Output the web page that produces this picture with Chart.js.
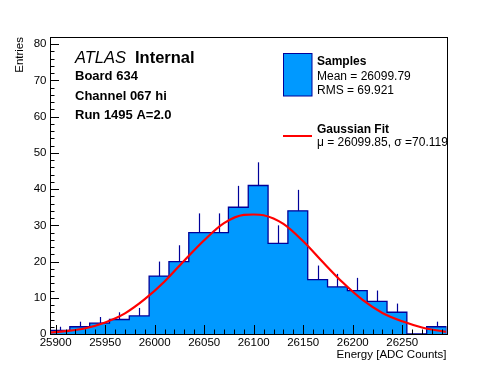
<!DOCTYPE html>
<html><head><meta charset="utf-8">
<script src="https://cdn.jsdelivr.net/npm/chart.js@4.4.0/dist/chart.umd.min.js"></script>
<style>html,body{margin:0;padding:0;background:#fff;}#wrap{width:496px;height:372px;}</style>
</head><body><div id="wrap"><canvas id="c" width="496" height="372"></canvas></div>
<script>
// ---- data ----
const binLow = 25894.3;
const binWidth = 20.02;
const counts = [1, 2, 3, 4, 5, 16, 20, 28, 28, 35, 41, 25, 34, 15, 13, 12, 9, 6, 0, 2];
const errors = [1, 1.4, 1.7, 2, 2.2, 4, 4.5, 5.3, 5.3, 5.9, 6.4, 5, 5.8, 3.9, 3.6, 3.5, 3, 2.4, 0, 1.4];
const fitX = [25894, 25910, 25930, 25950, 25970, 25990, 26010, 26030, 26050, 26070, 26090, 26100, 26110, 26130, 26150, 26170, 26190, 26210, 26230, 26250, 26270, 26294];
const fitY = [0.4, 0.8, 1.6, 3.2, 5.7, 9.6, 14.5, 20.3, 25.9, 30.6, 32.9, 33.0, 32.8, 30.4, 25.6, 19.8, 14.2, 9.4, 5.8, 3.5, 1.8, 0.6];
const xTickLabels = [25900, 25950, 26000, 26050, 26100, 26150, 26200, 26250];
const yTickLabels = [0, 10, 20, 30, 40, 50, 60, 70, 80];
const xMin = 25894.3, xMax = 26294.7;
const yMin = 0, yMax = 82;
const xMajorStep = 50, xMinorStep = 10;
const yMajorStep = 10, yMinorStep = 2;
const labelLines = ["Board 634", "Channel 067 hi", "Run 1495 A=2.0"];
const legendSamples = ["Samples", "Mean = 26099.79", "RMS = 69.921"];
const legendFit = ["Gaussian Fit", "\u03bc = 26099.85, \u03c3 =70.119"];

const FONT = "'Liberation Sans', Arial, Helvetica, sans-serif";
const FILL = '#0099ff', LINE = '#000099', RED = '#ff0000';

// histogram outline points (stepped)
const histPts = [{x: binLow, y: 0}];
counts.forEach((c, i) => histPts.push({x: binLow + i * binWidth, y: c}));
histPts.push({x: binLow + counts.length * binWidth, y: counts[counts.length - 1]});
histPts.push({x: binLow + counts.length * binWidth, y: 0});
const fitPts = fitX.map((x, i) => ({x: x, y: fitY[i]}));

const errorBars = {
  id: 'errorBars',
  afterDatasetDraw(chart, args) {
    if (args.index !== 1) return;
    const ctx = chart.ctx, xs = chart.scales.x, ys = chart.scales.y;
    ctx.save();
    ctx.strokeStyle = LINE; ctx.lineWidth = 1.2;
    counts.forEach((c, i) => {
      if (c <= 0) return;
      const px = Math.round(xs.getPixelForValue(binLow + (i + 0.5) * binWidth)) + 0.5;
      ctx.beginPath();
      ctx.moveTo(px, ys.getPixelForValue(c));
      ctx.lineTo(px, ys.getPixelForValue(c + errors[i]));
      ctx.stroke();
    });
    ctx.restore();
  }
};

const frameAndText = {
  id: 'frameAndText',
  afterDraw(chart) {
    const ctx = chart.ctx, a = chart.chartArea, xs = chart.scales.x, ys = chart.scales.y;
    ctx.save();
    ctx.strokeStyle = '#000'; ctx.lineWidth = 1;
    ctx.beginPath();
    for (let v = Math.ceil(xMin / xMinorStep) * xMinorStep; v <= xMax; v += xMinorStep) {
      const px = Math.round(xs.getPixelForValue(v)) + 0.5;
      const len = (v % xMajorStep === 0) ? 9 : 4.5;
      ctx.moveTo(px, a.bottom); ctx.lineTo(px, a.bottom - len);
    }
    for (let v = yMin; v <= yMax; v += yMinorStep) {
      const py = Math.round(ys.getPixelForValue(v)) + 0.5;
      const len = (v % yMajorStep === 0) ? 9 : 4.5;
      ctx.moveTo(a.left, py); ctx.lineTo(a.left + len, py);
    }
    ctx.stroke();
    ctx.strokeRect(Math.round(a.left) + 0.5, Math.round(a.top) + 0.5, Math.round(a.right - a.left), Math.round(a.bottom - a.top));

    ctx.fillStyle = '#000'; ctx.textBaseline = 'alphabetic'; ctx.textAlign = 'left';
    ctx.font = 'italic 16.5px ' + FONT;
    ctx.fillText('ATLAS', 75, 63);
    ctx.font = 'bold 16.5px ' + FONT;
    ctx.fillText('Internal', 135, 63);
    ctx.font = 'bold 13px ' + FONT;
    ctx.fillText(labelLines[0], 75, 80);
    ctx.fillText(labelLines[1], 75, 99.5);
    ctx.fillText(labelLines[2], 75, 118.5);

    ctx.fillStyle = FILL; ctx.fillRect(283, 53.5, 29, 42.5);
    ctx.strokeStyle = LINE; ctx.lineWidth = 1; ctx.strokeRect(283.5, 53.5, 28.5, 42.5);
    ctx.strokeStyle = RED; ctx.lineWidth = 2;
    ctx.beginPath(); ctx.moveTo(283, 136); ctx.lineTo(312, 136); ctx.stroke();
    ctx.fillStyle = '#000';
    ctx.font = 'bold 12px ' + FONT;
    ctx.fillText(legendSamples[0], 317, 65);
    ctx.fillText(legendFit[0], 317, 132.5);
    ctx.font = '12px ' + FONT;
    ctx.fillText(legendSamples[1], 317, 80);
    ctx.fillText(legendSamples[2], 317, 93.5);
    ctx.fillText(legendFit[1], 317, 146);
    ctx.restore();
  }
};

new Chart(document.getElementById('c'), {
  type: 'line',
  data: {
    datasets: [
      {
        label: 'Gaussian Fit', data: fitPts, borderColor: RED, borderWidth: 2.2,
        pointRadius: 0, fill: false, cubicInterpolationMode: 'monotone', order: 0
      },
      {
        label: 'Samples', data: histPts, borderColor: LINE, borderWidth: 1.3,
        backgroundColor: FILL, fill: 'origin', stepped: true, pointRadius: 0, order: 1
      }
    ]
  },
  options: {
    responsive: false, animation: false, devicePixelRatio: 1,
    layout: {padding: {left: 0, top: 37, right: 49.5, bottom: 0}},
    plugins: {legend: {display: false}, tooltip: {enabled: false}},
    scales: {
      x: {
        type: 'linear', min: xMin, max: xMax,
        grid: {display: false, drawTicks: false}, border: {display: false},
        afterBuildTicks(s) { s.ticks = xTickLabels.map(v => ({value: v})); },
        ticks: {autoSkip: false, maxRotation: 0, padding: 2, color: '#000',
                font: {family: FONT, size: 11.5}, callback: v => String(v)},
        title: {display: true, text: 'Energy [ADC Counts]', align: 'end', color: '#000',
                font: {family: FONT, size: 11.5}, padding: {top: 0, bottom: 10}},
        afterFit(s) { s.height = 38; }
      },
      y: {
        type: 'linear', min: yMin, max: yMax,
        grid: {display: false, drawTicks: false}, border: {display: false},
        afterBuildTicks(s) { s.ticks = yTickLabels.map(v => ({value: v})); },
        ticks: {autoSkip: false, padding: 3.5, color: '#000',
                font: {family: FONT, size: 11.5}, callback: v => String(v)},
        title: {display: true, text: 'Entries', align: 'end', color: '#000',
                font: {family: FONT, size: 11.5}, padding: {top: 12.5, bottom: 0}},
        afterFit(s) { s.width = 50; }
      }
    }
  },
  plugins: [errorBars, frameAndText]
});
</script>
</body></html>
